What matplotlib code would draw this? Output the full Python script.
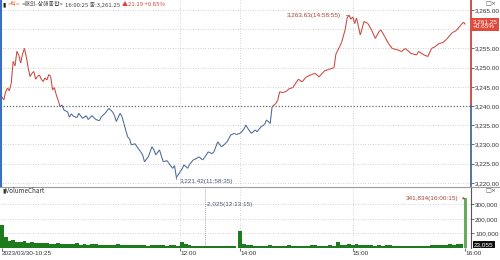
import numpy as np
import matplotlib
matplotlib.use('Agg')
import matplotlib.pyplot as plt
from matplotlib.collections import LineCollection
from matplotlib.lines import Line2D

plt.rcParams['font.family'] = ['Liberation Sans', 'DejaVu Sans']

# price (tick samples, KST)
price_time = [
    "10:25", "10:26", "10:27", "10:28", "10:29", "10:30", "10:31", "10:32", "10:33", "10:34",
    "10:35", "10:36", "10:37", "10:38", "10:39", "10:40", "10:41", "10:42", "10:43", "10:44",
    "10:45", "10:46", "10:47", "10:48", "10:49", "10:50", "10:51", "10:52", "10:53", "10:54",
    "10:55", "10:56", "10:57", "10:58", "11:00", "11:01", "11:02", "11:03", "11:05", "11:06",
    "11:08", "11:10", "11:11", "11:13", "11:15", "11:17", "11:18", "11:20", "11:22", "11:24",
    "11:25", "11:26", "11:28", "11:29", "11:30", "11:32", "11:33", "11:34", "11:36", "11:37",
    "11:39", "11:40", "11:41", "11:43", "11:45", "11:46", "11:47", "11:49", "11:50", "11:51",
    "11:53", "11:54", "11:56", "11:57", "11:58", "12:00", "12:01", "12:02", "12:04", "12:05",
    "12:07", "12:09", "12:10", "12:12", "12:13", "12:15", "12:17", "12:18", "12:20", "12:22",
    "12:24", "12:25", "12:27", "12:29", "12:30",
    "14:00", "14:02", "14:03", "14:04", "14:06", "14:08", "14:09", "14:11", "14:13", "14:14",
    "14:16", "14:17", "14:19", "14:20", "14:21", "14:23", "14:25", "14:26", "14:28", "14:29",
    "14:31", "14:33", "14:35", "14:38", "14:40", "14:42", "14:45", "14:47", "14:50", "14:51",
    "14:53", "14:54", "14:56", "14:57", "14:58", "14:59", "15:00", "15:01", "15:02", "15:03",
    "15:04", "15:06", "15:08", "15:10", "15:12", "15:14", "15:15", "15:17", "15:19", "15:21",
    "15:24", "15:26", "15:28", "15:31", "15:34", "15:35", "15:38", "15:40", "15:42", "15:44",
    "15:46", "15:48", "15:50", "15:53", "15:55", "15:58", "15:59", "16:00",
]
price_val = [
    3242.4, 3241.6, 3243.7, 3244.7, 3244.0, 3246.0, 3251.6, 3250.5, 3254.2, 3253.3,
    3251.2, 3253.5, 3255.0, 3252.9, 3250.0, 3247.7, 3248.5, 3249.0, 3247.0, 3247.7,
    3248.1, 3247.0, 3246.4, 3247.3, 3246.8, 3248.2, 3247.7, 3244.2, 3244.8, 3242.9,
    3241.5, 3239.8, 3240.3, 3239.0, 3238.5, 3237.1, 3238.0, 3237.4, 3237.0, 3238.1,
    3236.8, 3237.5, 3236.5, 3237.5, 3236.5, 3236.2, 3237.2, 3238.1, 3239.4, 3238.5,
    3237.5, 3236.0, 3238.1, 3237.3, 3235.5, 3232.0, 3231.5, 3229.9, 3230.2, 3229.4,
    3228.1, 3227.3, 3225.5, 3226.8, 3229.4, 3228.6, 3227.3, 3228.6, 3227.0, 3225.5,
    3225.8, 3225.1, 3223.8, 3224.5, 3221.42, 3222.9, 3223.6, 3224.7, 3223.8, 3224.8,
    3226.0, 3226.4, 3226.8, 3226.0, 3226.6, 3228.1, 3227.6, 3228.1, 3230.7, 3229.4,
    3230.2, 3230.7, 3232.5, 3232.9, 3232.6,
    3232.9, 3234.0, 3235.1, 3234.2, 3232.9, 3233.8, 3233.3, 3234.6, 3235.2, 3236.4,
    3235.5, 3239.8, 3240.7, 3241.5, 3243.7, 3243.5, 3244.0, 3244.5, 3244.8, 3245.5,
    3247.0, 3246.3, 3247.5, 3248.2, 3248.5, 3247.6, 3249.2, 3249.5, 3250.0, 3253.5,
    3255.5, 3256.5, 3260.0, 3263.0, 3263.63, 3262.6, 3263.2, 3261.5, 3262.9, 3260.7,
    3258.5, 3262.0, 3261.5, 3259.8, 3257.6, 3259.4, 3259.8, 3258.1, 3256.3, 3255.0,
    3254.6, 3254.2, 3255.0, 3253.7, 3253.3, 3254.2, 3253.3, 3252.9, 3255.0, 3255.5,
    3256.3, 3256.5, 3257.4, 3259.1, 3259.6, 3261.3, 3261.8, 3261.25,
]
prev_close = 3240.06

# volume, 2-minute buckets (thousands)
vol_am = [160, 75, 48, 55, 42, 38, 46, 36, 40, 33,
          37, 31, 35, 28, 30, 34, 27, 30, 25, 29,
          31, 24, 26, 22, 25, 28, 22, 24, 20, 23,
          21, 25, 20, 22, 19, 21, 18, 22, 20, 17,
          19, 21, 18, 20, 16, 18, 22, 17, 42, 30,
          21, 16, 12, 14, 12, 11, 13, 12, 14, 12,
          15, 13, 12]
vol_pm = [120, 25, 18, 20, 15, 17, 14, 16, 18, 15,
          17, 14, 16, 19, 15, 17, 14, 16, 15, 18,
          20, 16, 17, 15, 18, 16, 38, 22, 24, 26,
          20, 30, 18, 20, 24, 18, 17, 19, 16, 22,
          18, 17, 15, 16, 14, 15, 13, 14, 16, 15,
          17, 18, 20, 22, 19, 24, 26, 23, 25, 27]
vol_close = 341.834

tick_times = ["10:25", "12:00", "14:00", "15:00", "16:00"]
tick_labels = ["2023/03/30-10:25", "12:00", "14:00", "15:00", "16:00"]


def to_idx(t):
    h, m = map(int, t.split(':'))
    mins = h * 60 + m
    if mins <= 12 * 60 + 30:
        return mins - (10 * 60 + 25)
    return 127 + mins - 14 * 60


RED = '#cc4438'
BLUE = '#4a6898'
GREEN = '#1d7a1d'
GRID = '#c4c4c4'

fig = plt.figure(figsize=(5, 2.6), dpi=100)
ax = fig.add_axes([0, 1 - 186 / 260, 471 / 500, 186 / 260])
axv = fig.add_axes([0, 1 - 248 / 260, 471 / 500, 61 / 260], sharex=ax)

x = np.array([to_idx(t) for t in price_time], dtype=float)
y = np.array(price_val)
pts = np.column_stack([x, y])
segs = np.stack([pts[:-1], pts[1:]], axis=1)
mid = (y[:-1] + y[1:]) / 2
cols = np.where(mid >= prev_close, RED, BLUE)
ax.add_collection(LineCollection(segs, colors=cols, linewidths=0.75, zorder=3))

ax.set_xlim(-1, 250)
ax.set_ylim(3219.2, 3267.6)

yt = np.arange(3220, 3266, 5)
for v in yt:
    if v != 3240:
        ax.axhline(v, color=GRID, lw=0.6, ls=(0, (1, 2)), zorder=1)
ax.axhline(prev_close, color='#666666', lw=0.9, ls=(0, (1, 1.5)), zorder=2)

xt = [to_idx(t) for t in tick_times]
for a in (ax, axv):
    for v in xt[1:4]:
        a.axvline(v, color=GRID, lw=0.6, ls=(0, (1, 2)), zorder=1)

ax.yaxis.tick_right()
ax.set_yticks(yt)
# the 3,260.00 label sits under the current-price box
ax.set_yticklabels(["" if v == 3260 else f"{v:,.2f}" for v in yt])
ax.tick_params(axis='y', length=2, width=0.5, pad=1, labelsize=4.6,
               colors='#333333')
ax.tick_params(axis='x', bottom=False, labelbottom=False)
for s in ax.spines.values():
    s.set_visible(False)
tr = ax.get_yaxis_transform()
ax.plot([1, 1], [prev_close, 3267.6], color=RED, lw=1.3, transform=tr, clip_on=False)
ax.plot([1, 1], [3219.2, prev_close], color=BLUE, lw=1.3, transform=tr, clip_on=False)

# max / min labels
imax = int(np.argmax(y))
imin = int(np.argmin(y))
ax.annotate("3,263.63(14:58:55)", xy=(x[imax], y[imax]), xytext=(-6, 0),
            textcoords='offset points', ha='right', va='center', fontsize=4.6,
            color='#a84536', arrowprops=dict(arrowstyle='-', color='#a84536', lw=0.5))
ax.annotate("3,221.42(11:58:35)", xy=(x[imin], y[imin]), xytext=(2.5, -3),
            textcoords='offset points', ha='left', va='center', fontsize=4.6,
            color='#4a5a7a',
            arrowprops=dict(arrowstyle='-', color='#4a5a7a', lw=0.5,
                            connectionstyle='angle,angleA=0,angleB=90,rad=0'))

# current price box
ax.text(1.004, 3261.25, "3,261.25\n+0.65%", transform=tr, ha='left', va='center',
        fontsize=4.6, color='white', linespacing=1.0, zorder=10, clip_on=False,
        bbox=dict(boxstyle='square,pad=0.25', fc='#e04a3c', ec='none'))

# volume
xa = np.arange(len(vol_am)) * 2
xp = 127 + np.arange(len(vol_pm)) * 2
axv.bar(xa, np.array(vol_am) * 1000, width=2, color=GREEN, lw=0, zorder=3)
axv.bar(xp, np.array(vol_pm) * 1000, width=2, color=GREEN, lw=0, zorder=3)
axv.bar([247], [vol_close * 1000], width=1.3, color='#6aaa5e', lw=0, zorder=3)
axv.set_ylim(0, 420000)

vt = [100000, 200000, 300000]
for v in vt:
    axv.axhline(v, color=GRID, lw=0.6, ls=(0, (1, 2)), zorder=1)
axv.yaxis.tick_right()
axv.set_yticks(vt)
axv.set_yticklabels([f"{v:,}" for v in vt])
axv.tick_params(axis='y', length=2, width=0.5, pad=1, labelsize=4.6, colors='#333333')
axv.set_xticks(xt)
axv.set_xticklabels(tick_labels)
for lab in axv.get_xticklabels():
    lab.set_horizontalalignment('left')
axv.tick_params(axis='x', length=2, width=0.5, pad=0.5, labelsize=4.6, colors='#333333')
for k, s in axv.spines.items():
    s.set_visible(k == 'right')
axv.spines['right'].set_color('#555555')
axv.spines['right'].set_linewidth(0.8)

vmin_x = to_idx("12:13") + 0.25
axv.axvline(vmin_x, color='#888888', lw=0.6, ls=(0, (1, 1.5)), zorder=2)
axv.text(vmin_x + 0.5, 300000, "-2,025(12:13:15)", ha='left', va='center',
         fontsize=4.6, color='#4a5a7a')
axv.annotate("341,834(16:00:15)", xy=(247, vol_close * 1000), xytext=(-5, 0),
             textcoords='offset points', ha='right', va='center', fontsize=4.6,
             color='#a84536',
             arrowprops=dict(arrowstyle='-|>', color='#a84536', lw=0.5, mutation_scale=3))
axv.text(1.006, 23055, "23,055", transform=axv.get_yaxis_transform(), ha='left',
         va='center', fontsize=4.6, color='white', zorder=10, clip_on=False,
         bbox=dict(boxstyle='square,pad=0.2', fc='#111111', ec='none'))

# frame bits
fig.add_artist(Line2D([0, 1], [1 - 186.5 / 260] * 2, color='#9a9a9a', lw=0.8))
fig.add_artist(Line2D([0.002, 0.002], [1 - 186 / 260, 1], color='#3a6fc4', lw=1.5))

# header line, pieces laid out one after another
ko = ['Noto Sans CJK KR', 'DejaVu Sans']
hdr = [("▮", '#222222'), ("<틱>", '#e0703a'), ("<해외-상해종합>", '#444444'),
       ("16:00:25 종:3,261.25", '#444444'), ("▲21.19 +0.65%", '#d8403a')]
fig.canvas.draw()
r = fig.canvas.get_renderer()
xpos = 2
for s, c in hdr:
    t = fig.text(xpos / 500, 1 - 4.5 / 260, s, fontsize=4.3, color=c, va='center', family=ko)
    xpos += t.get_window_extent(r).width + 2

fig.text(2 / 500, 1 - 190.5 / 260, "▮VolumeChart", fontsize=4.5, color='#333333', va='center', family=ko)
for yy in (4, 190.5):
    fig.text(497 / 500, 1 - yy / 260, "□×", fontsize=4.5, color='#555555',
             ha='right', va='center', family=['DejaVu Sans'])

fig.savefig('out.png', dpi=100, facecolor='white')
